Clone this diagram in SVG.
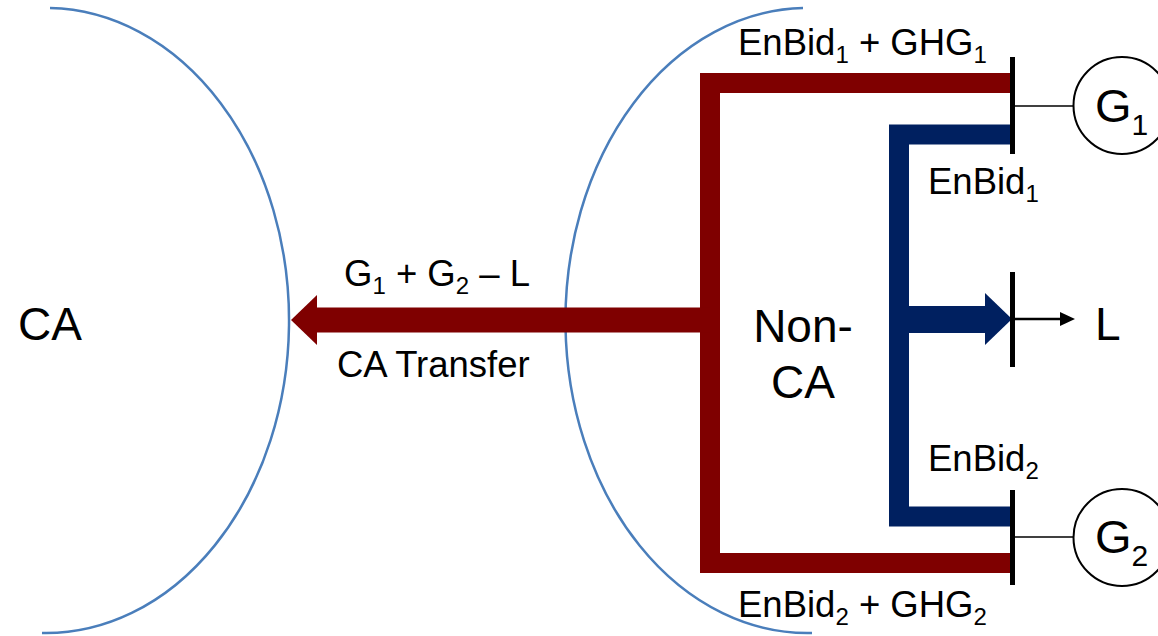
<svg xmlns="http://www.w3.org/2000/svg" width="1158" height="636" viewBox="0 0 1158 636">
  <style>
    .area { fill: none; stroke: #4A7EBB; stroke-width: 2.5; }
    .red { fill: none; stroke: #7F0000; stroke-width: 20; stroke-linejoin: miter; }
    .redfill { fill: #7F0000; }
    .blue { fill: none; stroke: #002060; stroke-width: 20; stroke-linejoin: miter; }
    .bluefill { fill: #002060; }
    .bus { stroke: #000; stroke-width: 5; }
    .wire { stroke: #000; stroke-width: 1.5; }
    .gen { fill: #fff; stroke: #000; stroke-width: 2; }
    text { font-family: "Liberation Sans", Arial, sans-serif; fill: #000; }
    .big { font-size: 46px; }
    .lbl { font-size: 36.5px; }
    .sub { font-size: 24px; }
    .gtxt { font-size: 47px; }
    .gsub { font-size: 30px; }
  </style>

  <!-- control-area boundaries -->
  <g id="ca-area">
    <path class="area" d="M50,8 A243,312.5 0 0 1 42,633"/>
    <text class="big" x="18" y="340">CA</text>
  </g>
  <g id="nonca-area">
    <path class="area" d="M803,8 A242,312.5 0 0 0 812,633"/>
    <text class="big" x="803" y="342" text-anchor="middle">Non-</text>
    <text class="big" x="803" y="398" text-anchor="middle">CA</text>
  </g>

  <!-- flows -->
  <g id="connectors">
    <!-- generator energy + GHG flow, merged into CA transfer -->
    <path class="red" d="M1011,83 H710 V563 H1011"/>
    <rect class="redfill" x="316" y="307.5" width="394" height="25"/>
    <polygon class="redfill" points="317,295 291,320 317,345"/>
    <!-- energy bid flow serving the load -->
    <path class="blue" d="M1011,134.5 H899 V516.5 H1011"/>
    <rect class="bluefill" x="899" y="306" width="87" height="27"/>
    <polygon class="bluefill" points="985,293 1012,319 985,345"/>
    <!-- bus connections -->
    <line class="wire" x1="1014" y1="106" x2="1074" y2="106"/>
    <line class="wire" x1="1014" y1="537" x2="1074" y2="537"/>
    <line x1="1014" y1="319" x2="1062" y2="319" stroke="#000" stroke-width="2.5"/>
    <polygon points="1060,312 1075,319 1060,326" fill="#000"/>
  </g>

  <!-- buses -->
  <g id="bus-g1"><line class="bus" x1="1012.5" y1="57" x2="1012.5" y2="154"/></g>
  <g id="bus-load"><line class="bus" x1="1012.5" y1="272" x2="1012.5" y2="367"/></g>
  <g id="bus-g2"><line class="bus" x1="1012.5" y1="490" x2="1012.5" y2="585"/></g>

  <!-- generators and load -->
  <g id="gen-1">
    <circle class="gen" cx="1122" cy="105.5" r="48.5"/>
    <text class="gtxt" x="1095" y="122">G<tspan class="gsub" dy="13">1</tspan></text>
  </g>
  <g id="gen-2">
    <circle class="gen" cx="1122" cy="537.5" r="48.5"/>
    <text class="gtxt" x="1095" y="553">G<tspan class="gsub" dy="13">2</tspan></text>
  </g>
  <g id="load">
    <text class="big" x="1095" y="340">L</text>
  </g>

  <!-- flow labels -->
  <g id="labels">
    <text class="lbl" x="738" y="55">EnBid<tspan class="sub" dy="8">1</tspan><tspan dy="-8"> + GHG</tspan><tspan class="sub" dy="8">1</tspan></text>
    <text class="lbl" x="928" y="194">EnBid<tspan class="sub" dy="8">1</tspan></text>
    <text class="lbl" x="928" y="471">EnBid<tspan class="sub" dy="8">2</tspan></text>
    <text class="lbl" x="738" y="617">EnBid<tspan class="sub" dy="8">2</tspan><tspan dy="-8"> + GHG</tspan><tspan class="sub" dy="8">2</tspan></text>
    <text class="lbl" x="344" y="286">G<tspan class="sub" dy="8">1</tspan><tspan dy="-8"> + G</tspan><tspan class="sub" dy="8">2</tspan><tspan dy="-8"> – L</tspan></text>
    <text class="lbl" x="337" y="377">CA Transfer</text>
  </g>
</svg>
